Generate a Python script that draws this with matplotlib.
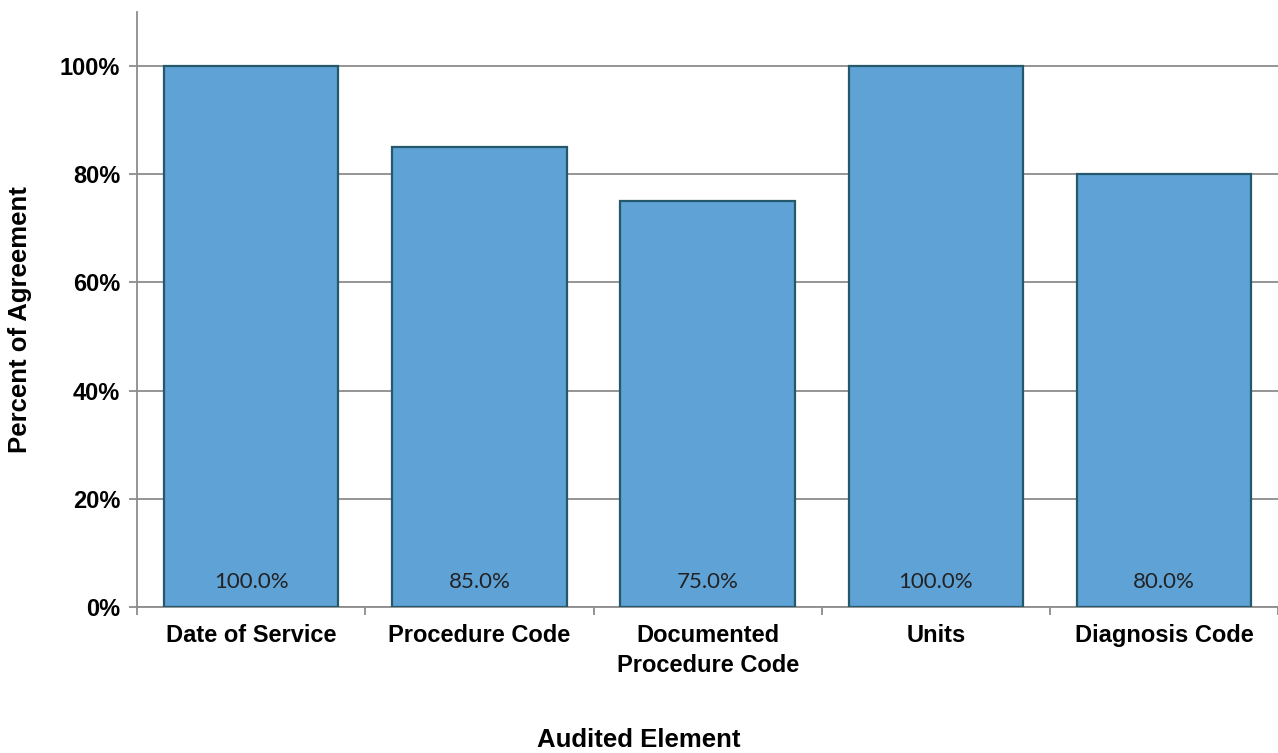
import matplotlib
matplotlib.use("Agg")
import matplotlib.pyplot as plt
import numpy as np

# audit results
elements = ["Date of Service", "Procedure Code", "Documented\nProcedure Code", "Units", "Diagnosis Code"]
agreement = [100.0, 85.0, 75.0, 100.0, 80.0]
yticks = [0, 20, 40, 60, 80, 100]

plt.rcParams['font.family'] = ['Liberation Sans', 'DejaVu Sans']

fig = plt.figure(figsize=(12.78, 7.53), dpi=100)
ax = fig.add_axes([0.1072, 0.194, 0.893, 0.79])

x = np.arange(len(elements))
bars = ax.bar(x, agreement, width=0.765, color="#5fa2d6", edgecolor="#24596b",
              linewidth=1.6, zorder=3)

for xi, v in zip(x, agreement):
    ax.text(xi, 4.6, f"{v:.1f}%", ha="center", va="center", fontsize=16,
            family=["Lato", "DejaVu Sans"], color="#222222", zorder=4)

ax.set_xlim(-0.5, len(elements) - 0.5)
ax.set_ylim(0, 110)
ax.set_yticks(yticks)
ax.set_yticklabels([f"{t}%" for t in yticks], fontsize=17, fontweight="bold")
ax.yaxis.grid(True, color="#8c8c8c", linewidth=1.3, zorder=0)

ax.set_xticks(x)
ax.set_xticklabels(elements, fontsize=17, fontweight="bold", linespacing=1.4)
ax.tick_params(axis="x", length=0, pad=12)
ax.set_xticks(np.arange(len(elements) + 1) - 0.5, minor=True)
ax.tick_params(axis="x", which="minor", length=6, width=1.3, color="#8c8c8c", direction="out")
ax.tick_params(axis="y", length=6, width=1.3, color="#8c8c8c", direction="out", pad=6)

for side in ["top", "right"]:
    ax.spines[side].set_visible(False)
for side in ["left", "bottom"]:
    ax.spines[side].set_color("#8c8c8c")
    ax.spines[side].set_linewidth(1.3)

fig.text(0.016, 0.575, "Percent of Agreement", rotation=90, ha="center", va="center",
         fontsize=18.5, fontweight="bold")
fig.text(0.5, 0.017, "Audited Element", ha="center", va="center", fontsize=18.5, fontweight="bold")

fig.savefig("out.png", dpi=100)
